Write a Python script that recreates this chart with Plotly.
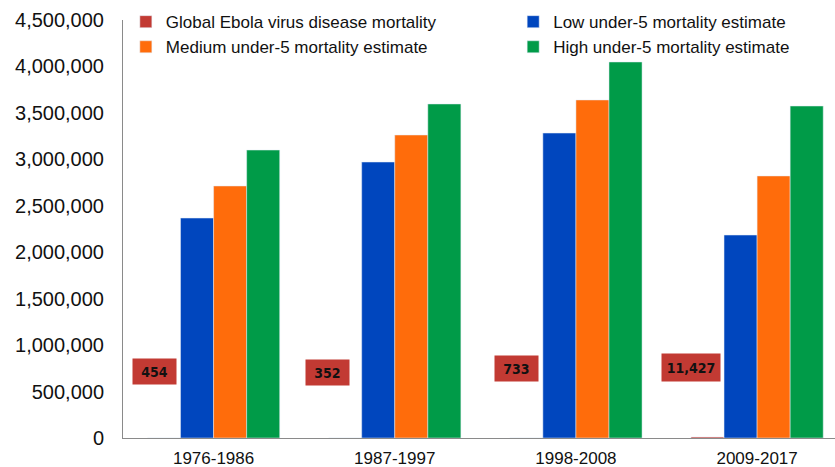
import plotly.graph_objects as go

categories = ["1976-1986", "1987-1997", "1998-2008", "2009-2017"]
ebola = [454, 352, 733, 11427]
low_u5 = [2368000, 2971000, 3283000, 2185000]
med_u5 = [2713000, 3262000, 3639000, 2821000]
high_u5 = [3100000, 3596000, 4048000, 3574000]
ebola_labels = ["454", "352", "733", "11,427"]
y_ticks = [0, 500000, 1000000, 1500000, 2000000, 2500000, 3000000, 3500000, 4000000, 4500000]

RED = "#C23A33"
BLUE = "#0046BE"
ORANGE = "#FF6C0B"
GREEN = "#009B48"

fig = go.Figure()
fig.add_trace(go.Bar(x=categories, y=ebola, name="Global Ebola virus disease mortality",
                     marker_color=RED, legend="legend"))
fig.add_trace(go.Bar(x=categories, y=low_u5, name="Low under-5 mortality estimate",
                     marker_color=BLUE, legend="legend2"))
fig.add_trace(go.Bar(x=categories, y=med_u5, name="Medium under-5 mortality estimate",
                     marker_color=ORANGE, legend="legend"))
fig.add_trace(go.Bar(x=categories, y=high_u5, name="High under-5 mortality estimate",
                     marker_color=GREEN, legend="legend2"))

# data-label boxes for the (tiny) Ebola bars
label_shift = [-59, -67, -59, -66]
label_y = [721000, 700000, 743000, 764000]
label_w = [41, 41, 41, 56]
label_h = [23, 23, 23, 25]
for i, cat in enumerate(categories):
    fig.add_annotation(
        x=cat, y=label_y[i], xref="x", yref="y", xshift=label_shift[i],
        text="<b>%s</b>" % ebola_labels[i], showarrow=False,
        bgcolor=RED, width=label_w[i], height=label_h[i],
        font=dict(family="Liberation Sans Narrow, DejaVu Sans Condensed, sans-serif", size=14, color="#111"),
    )

leg_common = dict(orientation="v", yanchor="top", xanchor="left",
                  font=dict(size=17, color="#111"), bgcolor="rgba(0,0,0,0)",
                  traceorder="normal", tracegroupgap=0)

fig.update_layout(
    width=835, height=467,
    margin=dict(l=123, r=0, t=20, b=29),
    paper_bgcolor="white", plot_bgcolor="white",
    barmode="group", bargap=0.27, bargroupgap=0,
    font=dict(family="Liberation Sans, Helvetica, Arial, sans-serif", color="#111"),
    showlegend=True,
    legend=dict(x=0.004, y=1.038, **leg_common),
    legend2=dict(x=0.548, y=1.038, **leg_common),
    xaxis=dict(
        range=[-0.5, 3.43], showline=True, linecolor="#8a8a8a", linewidth=1,
        ticks="", tickfont=dict(size=17), showgrid=False, zeroline=False,
        automargin=False, ticklabelstandoff=5,
    ),
    yaxis=dict(
        range=[0, 4500000], tickvals=y_ticks, tickformat=",d",
        showline=True, linecolor="#8a8a8a", linewidth=1, ticks="",
        tickfont=dict(size=20), showgrid=False, zeroline=False,
        automargin=False, ticklabelstandoff=14,
    ),
)

fig.write_html("out.html", config={"displayModeBar": False},
               post_script="document.body.style.margin='0';document.body.style.overflow='hidden';")
